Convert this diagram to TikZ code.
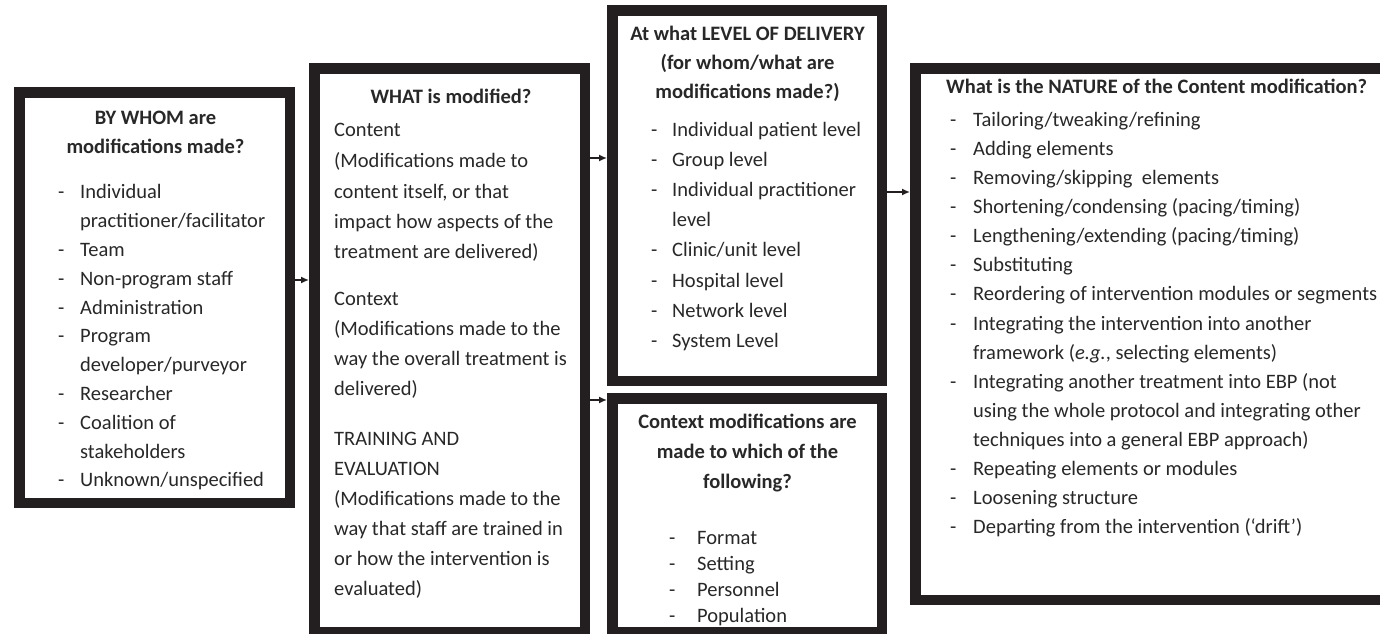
\documentclass[tikz,border=0pt]{standalone}
\usepackage{fontspec}
\setmainfont{Carlito}
\usetikzlibrary{arrows.meta,calc}
\definecolor{ink}{RGB}{35,31,32}
\definecolor{txtc}{RGB}{40,40,40}
\begin{document}
\begin{tikzpicture}[x=1pt,y=-1pt,
  box/.style={draw=ink, line width=10.5pt, inner sep=0pt, outer sep=5.25pt, fill=white},
  itm/.style={anchor=base west, inner sep=0pt, yshift=-5.5pt, text=txtc, font=\fontsize{20.5}{24}\selectfont},
  ttl/.style={anchor=base, inner sep=0pt, yshift=-5.5pt, text=txtc, font=\fontsize{20.5}{24}\selectfont\bfseries},
  arr/.style={draw=ink, line width=1.5pt, -{Latex[length=8pt,width=7pt]}}]
\useasboundingbox (0,0) rectangle (1380,633);
\fill[white] (0,0) rectangle (1380,633);

% boxes
\node[box, minimum width=270.5pt, minimum height=410.5pt] (b1) at (154.5,297.5) {};
\node[box, minimum width=270.5pt, minimum height=563.5pt] (b2) at (449.5,350) {};
\node[box, minimum width=269.5pt, minimum height=370.5pt] (b3) at (747,195.5) {};
\node[box, minimum width=269.5pt, minimum height=233.5pt] (b4) at (747,515) {};
\node[box, minimum width=471.5pt, minimum height=531.5pt] (b5) at (1151,334) {};

% connectors
\coordinate (a1) at (0,280);
\coordinate (a2) at (0,158);
\coordinate (a3) at (0,400);
\coordinate (a4) at (0,192);
\draw[arr] (b1.east |- a1) -- (b2.west |- a1);
\draw[arr] (b2.east |- a2) -- (b3.west |- a2);
\draw[arr] (b2.east |- a3) -- (b4.west |- a3);
\draw[arr] (b3.east |- a4) -- (b5.west |- a4);

% box 1
\node[ttl] (t1a) at (155.5,119) {BY WHOM are};
\node[ttl] (t1b) at (155.5,148) {modifications made?};
\foreach \ty/\tx [count=\k] in {193.3/Individual, 222.1/{practitioner/facilitator}, 250.9/Team,
  279.7/Non-program staff, 308.5/Administration, 337.3/Program, 366.1/{developer/purveyor},
  394.9/Researcher, 423.7/Coalition of, 452.5/stakeholders, 481.3/{Unknown/unspecified}}
  \node[itm] (b1i\k) at (80,\ty) {\tx};
\foreach \ty [count=\k] in {193.3,250.9,279.7,308.5,337.3,394.9,423.7,481.3}
  \node[itm] (b1d\k) at (58,\ty) {-};

% box 2
\node[ttl] (t2) at (451,98) {WHAT is modified?};
\foreach \ty/\tx [count=\k] in {131/Content, 162/(Modifications made to, 193/{content itself, or that},
  223/impact how aspects of the, 253/treatment are delivered),
  300/Context, 330/(Modifications made to the, 360/way the overall treatment is, 390/delivered),
  440/TRAINING AND, 470/EVALUATION, 500/(Modifications made to the, 530/way that staff are trained in,
  560/or how the intervention is, 590/evaluated)}
  \node[itm] (b2i\k) at (334,\ty) {\tx};

% box 3
\node[ttl] (t3a) at (747.5,35) {At what LEVEL OF DELIVERY};
\node[ttl] (t3b) at (747.5,64) {(for whom/what are};
\node[ttl] (t3c) at (747.5,93) {modifications made?)};
\foreach \ty/\tx [count=\k] in {131/Individual patient level, 161.1/Group level, 191.2/Individual practitioner,
  221.3/level, 251.4/{Clinic/unit level}, 281.5/Hospital level, 311.6/Network level, 341.7/System Level}
  \node[itm] (b3i\k) at (672,\ty) {\tx};
\foreach \ty [count=\k] in {131,161.1,191.2,251.4,281.5,311.6,341.7}
  \node[itm] (b3d\k) at (651,\ty) {-};

% box 4
\node[ttl] (t4a) at (747.5,423) {Context modifications are};
\node[ttl] (t4b) at (747.5,453) {made to which of the};
\node[ttl] (t4c) at (747.5,483) {following?};
\foreach \ty/\tx [count=\k] in {539/Format, 565/Setting, 591/Personnel, 617/Population}
  \node[itm] (b4i\k) at (697,\ty) {\tx};
\foreach \ty [count=\k] in {539,565,591,617}
  \node[itm] (b4d\k) at (669,\ty) {-};

% box 5
\node[ttl, anchor=base west] (t5) at (946,88) {What is the NATURE of the Content modification?};
\foreach \ty/\tx [count=\k] in {121/{Tailoring/tweaking/refining}, 150.1/Adding elements,
  179.1/{Removing/skipping~~elements}, 208.2/{Shortening/condensing (pacing/timing)},
  237.3/{Lengthening/extending (pacing/timing)}, 266.4/Substituting,
  295.4/Reordering of intervention modules or segments, 324.5/Integrating the intervention into another,
  353.6/{framework (\textit{e.g.}, selecting elements)}, 382.6/Integrating another treatment into EBP (not,
  411.7/using the whole protocol and integrating other, 440.8/techniques into a general EBP approach),
  469.8/Repeating elements or modules, 498.9/Loosening structure, 528/Departing from the intervention (‘drift’)}
  \node[itm] (b5i\k) at (973,\ty) {\tx};
\foreach \ty [count=\k] in {121,150.1,179.1,208.2,237.3,266.4,295.4,324.5,382.6,469.8,498.9,528}
  \node[itm] (b5d\k) at (950,\ty) {-};
\end{tikzpicture}
\end{document}
